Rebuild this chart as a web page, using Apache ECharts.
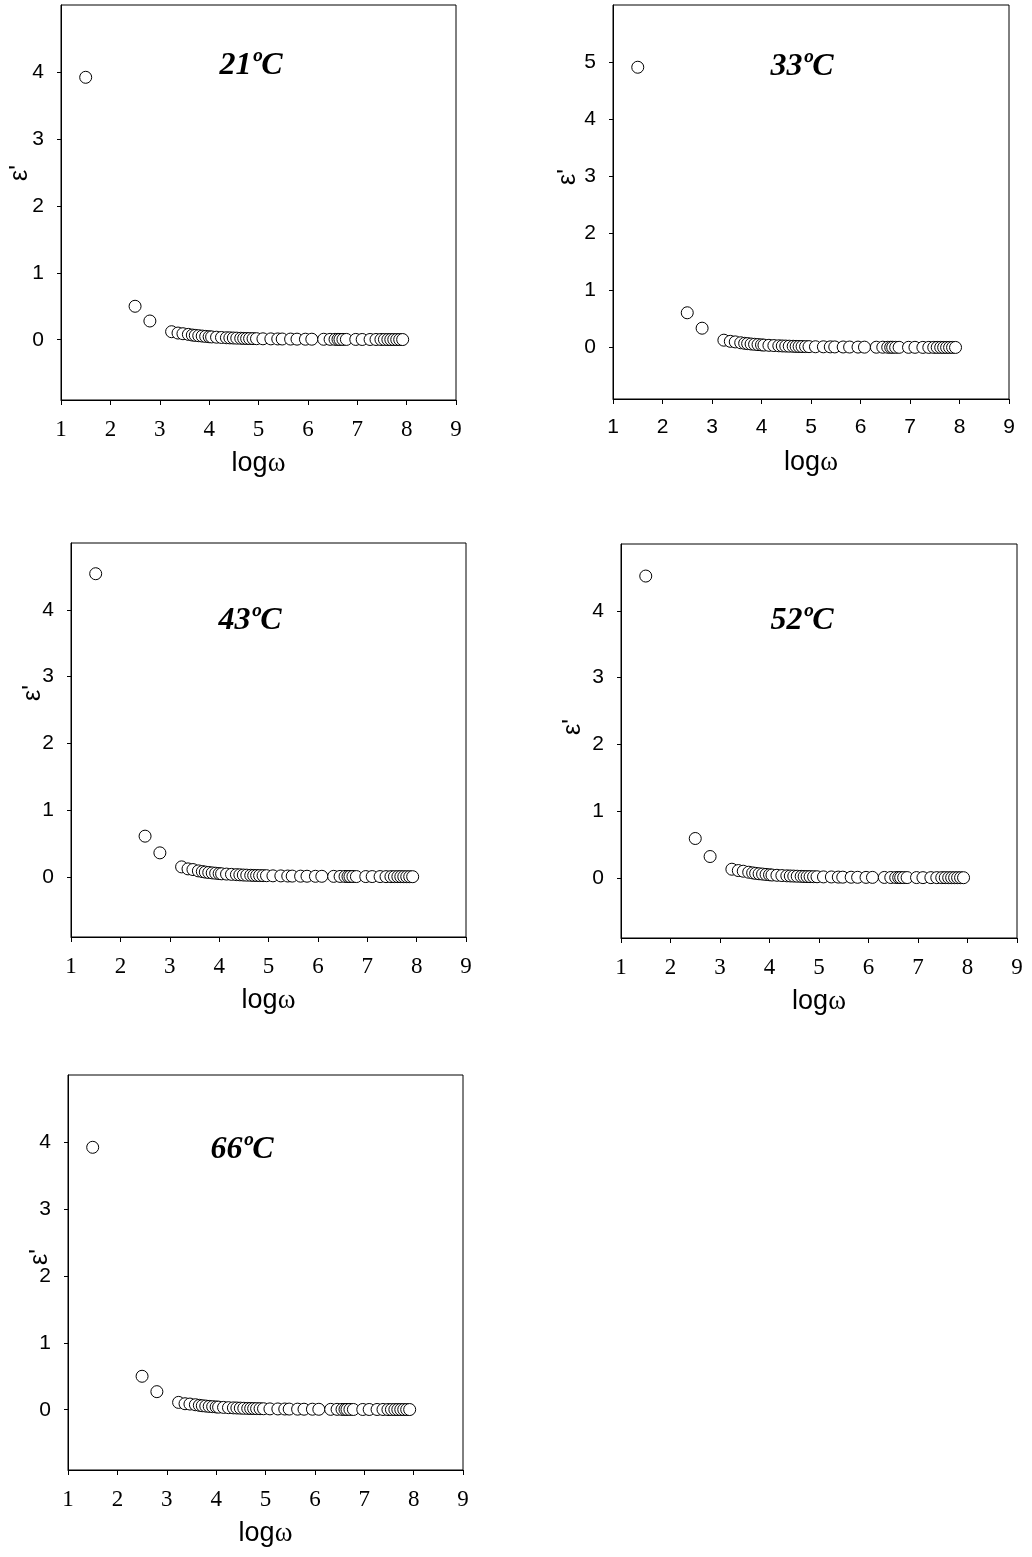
<!DOCTYPE html>
<html>
<head>
<meta charset="utf-8">
<script src="https://cdn.jsdelivr.net/npm/echarts@6/dist/echarts.min.js"></script>
<style>
  html, body { margin: 0; padding: 0; background: #fff; }
  #chart { width: 1032px; height: 1557px; }
</style>
</head>
<body>
<div id="chart"></div>
<script>
// log(omega) values, shared by all panels
const logW = [1.5, 2.5, 2.8, 3.24, 3.37, 3.47, 3.58, 3.66, 3.72, 3.79, 3.86, 3.93, 4.0, 4.05, 4.15, 4.25, 4.35, 4.42, 4.49, 4.56, 4.64, 4.7, 4.76, 4.82, 4.89, 4.96, 5.09, 5.25, 5.39, 5.48, 5.65, 5.78, 5.95, 6.08, 6.32, 6.45, 6.55, 6.61, 6.65, 6.71, 6.78, 6.97, 7.1, 7.26, 7.38, 7.48, 7.55, 7.62, 7.68, 7.74, 7.8, 7.86, 7.92]

// epsilon' at each temperature
const eps21 = [3.92, 0.50, 0.28, 0.12, 0.10, 0.09, 0.08, 0.07, 0.065, 0.06, 0.055, 0.05, 0.045, 0.042, 0.038, 0.034, 0.03, 0.028, 0.026, 0.024, 0.022, 0.02, 0.019, 0.018, 0.017, 0.016, 0.014, 0.013, 0.012, 0.011, 0.01, 0.009, 0.008, 0.008, 0.007, 0.006, 0.006, 0.006, 0.005, 0.005, 0.005, 0.005, 0.004, 0.004, 0.004, 0.004, 0.004, 0.003, 0.003, 0.003, 0.003, 0.003, 0.003]
const eps33 = [4.91, 0.61, 0.34, 0.13, 0.11, 0.10, 0.085, 0.075, 0.07, 0.063, 0.058, 0.053, 0.048, 0.044, 0.04, 0.036, 0.032, 0.029, 0.027, 0.025, 0.023, 0.021, 0.02, 0.019, 0.018, 0.017, 0.015, 0.014, 0.013, 0.012, 0.011, 0.01, 0.009, 0.008, 0.007, 0.007, 0.006, 0.006, 0.006, 0.005, 0.005, 0.005, 0.005, 0.004, 0.004, 0.004, 0.004, 0.004, 0.003, 0.003, 0.003, 0.003, 0.003]
const eps43 = [4.54, 0.61, 0.36, 0.15, 0.12, 0.11, 0.09, 0.08, 0.072, 0.066, 0.06, 0.055, 0.05, 0.046, 0.042, 0.038, 0.034, 0.031, 0.028, 0.026, 0.024, 0.022, 0.021, 0.02, 0.019, 0.018, 0.016, 0.015, 0.013, 0.012, 0.011, 0.01, 0.009, 0.009, 0.008, 0.007, 0.007, 0.006, 0.006, 0.006, 0.005, 0.005, 0.005, 0.005, 0.004, 0.004, 0.004, 0.004, 0.004, 0.003, 0.003, 0.003, 0.003]
const eps52 = [4.52, 0.59, 0.32, 0.13, 0.11, 0.10, 0.085, 0.075, 0.068, 0.062, 0.057, 0.052, 0.047, 0.043, 0.039, 0.035, 0.031, 0.029, 0.027, 0.025, 0.023, 0.021, 0.02, 0.019, 0.018, 0.017, 0.015, 0.014, 0.012, 0.011, 0.01, 0.009, 0.008, 0.008, 0.007, 0.006, 0.006, 0.006, 0.005, 0.005, 0.005, 0.005, 0.004, 0.004, 0.004, 0.004, 0.004, 0.003, 0.003, 0.003, 0.003, 0.003, 0.003]
const eps66 = [3.92, 0.50, 0.27, 0.11, 0.09, 0.085, 0.075, 0.066, 0.06, 0.055, 0.05, 0.046, 0.042, 0.039, 0.035, 0.031, 0.028, 0.026, 0.024, 0.022, 0.02, 0.019, 0.018, 0.017, 0.016, 0.015, 0.013, 0.012, 0.011, 0.01, 0.009, 0.008, 0.008, 0.007, 0.006, 0.006, 0.005, 0.005, 0.005, 0.005, 0.004, 0.004, 0.004, 0.004, 0.004, 0.003, 0.003, 0.003, 0.003, 0.003, 0.003, 0.003, 0.003]

const titles = ['21ºC', '33ºC', '43ºC', '52ºC', '66ºC']
const xTicks = [1, 2, 3, 4, 5, 6, 7, 8, 9]
const yTicks4 = [0, 1, 2, 3, 4]
const yTicks5 = [0, 1, 2, 3, 4, 5]

const SANS = 'Liberation Sans, Arial, sans-serif'
const SERIF = 'Liberation Serif, Times New Roman, serif'

// layout of each panel (pixels)
const panels = [
  { data: eps21, yMax: 5, yTicks: yTicks4, xFont: SERIF, grid: [61, 5, 395, 395], titlePos: [251, 66], yNamePos: [20, 173] },
  { data: eps33, yMax: 6, yTicks: yTicks5, xFont: SANS, grid: [613, 5, 396, 394], titlePos: [802, 67], yNamePos: [568, 177] },
  { data: eps43, yMax: 5, yTicks: yTicks4, xFont: SERIF, grid: [71, 543, 395, 394], titlePos: [250, 621], yNamePos: [33, 693] },
  { data: eps52, yMax: 5, yTicks: yTicks4, xFont: SERIF, grid: [621, 544, 396, 394], titlePos: [802, 621], yNamePos: [573, 727] },
  { data: eps66, yMax: 5, yTicks: yTicks4, xFont: SERIF, grid: [68, 1075, 395, 395], titlePos: [242, 1150], yNamePos: [40, 1257] }
]

const grids = []
const xAxes = []
const yAxes = []
const series = []
const graphics = []

panels.forEach((p, i) => {
  grids.push({
    left: p.grid[0],
    top: p.grid[1],
    width: p.grid[2],
    height: p.grid[3],
    show: true,
    borderColor: '#000',
    borderWidth: 1,
    backgroundColor: 'transparent'
  })
  xAxes.push({
    type: 'value',
    gridIndex: i,
    min: xTicks[0],
    max: xTicks[xTicks.length - 1],
    interval: 1,
    name: '{a|log}{b|ω}',
    nameLocation: 'middle',
    nameGap: 50,
    nameTextStyle: {
      rich: {
        a: { fontFamily: SANS, fontSize: 27, color: '#000' },
        b: { fontFamily: SERIF, fontSize: 27, color: '#000' }
      }
    },
    axisLine: { onZero: false, lineStyle: { color: '#000', width: 1 } },
    axisTick: { inside: false, length: 5, lineStyle: { color: '#000' } },
    axisLabel: { fontFamily: p.xFont, fontSize: p.xFont === SANS ? 21 : 23, color: '#000', margin: 18 },
    splitLine: { show: false }
  })
  yAxes.push({
    type: 'value',
    gridIndex: i,
    min: -0.9,
    max: p.yMax,
    axisLine: { onZero: false, lineStyle: { color: '#000', width: 1 } },
    axisTick: { inside: false, length: 4, customValues: p.yTicks, lineStyle: { color: '#000' } },
    axisLabel: { fontFamily: SANS, fontSize: 21, color: '#000', margin: 17, customValues: p.yTicks },
    splitLine: { show: false }
  })
  series.push({
    type: 'scatter',
    xAxisIndex: i,
    yAxisIndex: i,
    data: logW.map((x, k) => [x, p.data[k]]),
    symbol: 'circle',
    symbolSize: 12,
    itemStyle: { color: '#fff', borderColor: '#000', borderWidth: 1, opacity: 1 },
    emphasis: { disabled: true },
    silent: true
  })
  graphics.push({
    type: 'text',
    x: p.titlePos[0],
    y: p.titlePos[1],
    style: {
      text: titles[i],
      fontFamily: SERIF,
      fontStyle: 'italic',
      fontWeight: 'bold',
      fontSize: 32,
      fill: '#000',
      textAlign: 'center',
      textVerticalAlign: 'middle'
    }
  })
  graphics.push({
    type: 'text',
    x: p.yNamePos[0],
    y: p.yNamePos[1],
    rotation: Math.PI / 2,
    style: {
      text: "ε'",
      fontFamily: SANS,
      fontSize: 25,
      fill: '#000',
      textAlign: 'center',
      textVerticalAlign: 'middle'
    }
  })
})

const chart = echarts.init(document.getElementById('chart'), null, { renderer: 'canvas' })
chart.setOption({
  backgroundColor: '#fff',
  animation: false,
  grid: grids,
  xAxis: xAxes,
  yAxis: yAxes,
  series: series,
  graphic: graphics
})
</script>
</body>
</html>
